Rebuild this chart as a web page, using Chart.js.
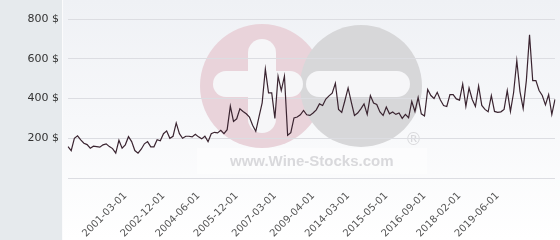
<!DOCTYPE html>
<html><head><meta charset="utf-8">
<script src="https://cdn.jsdelivr.net/npm/chart.js@4/dist/chart.umd.min.js"></script>
<style>html,body{margin:0;padding:0;background:#fff}#wrap{width:560px;height:240px}</style>
</head><body><div id="wrap"><canvas id="c" width="560" height="240"></canvas></div>
<script>
// Price series (USD)
const prices = [
  158,138,200,212,192,175,168,150,160,158,155,167,172,158,148,125,190,150,167,208,183,138,125,
  145,172,183,157,157,193,187,223,237,200,210,277,223,200,210,210,207,220,207,197,210,183,223,230,227,240,223,243,
  362,285,298,348,335,323,307,265,235,307,378,548,428,428,300,512,440,512,215,228,302,307,318,340,318,315,
  327,343,373,365,397,413,427,477,345,330,390,453,382,315,327,348,373,320,415,377,370,332,315,357,323,332,320,327,
  300,320,303,385,335,405,323,312,445,415,400,431,392,365,360,420,420,398,392,473,360,453,395,360,463,
  365,345,333,415,335,330,333,345,440,335,430,590,435,350,490,720,490,490,440,415,368,420,320,395
];
// Visible date labels and the point index they belong to
const tickLabels = ['2001-03-01','2002-12-01','2004-06-01','2005-12-01','2007-03-01','2009-04-01','2014-03-01','2015-05-01','2016-09-01','2018-02-01','2019-06-01'];
const tickIndices = [18,30,41,53,65,77,88,100,112,123,135];
const yMin = 0, yMax = 800, yStep = 200;
const currency = '$';
const watermarkText = 'www.Wine-Stocks.com';

const labels = prices.map((_, i) => {
  const k = tickIndices.indexOf(i);
  return k >= 0 ? tickLabels[k] : '';
});

function pill(ctx, x, y, w, h) {
  const r = Math.min(w, h) / 2;
  ctx.beginPath();
  ctx.moveTo(x + r, y);
  ctx.arcTo(x + w, y, x + w, y + h, r);
  ctx.arcTo(x + w, y + h, x, y + h, r);
  ctx.arcTo(x, y + h, x, y, r);
  ctx.arcTo(x, y, x + w, y, r);
  ctx.closePath();
  ctx.fill();
}

const bgPlugin = {
  id: 'bg',
  beforeDraw(chart) {
    const ctx = chart.ctx;
    const W = chart.width, H = chart.height;
    ctx.save();
    ctx.fillStyle = '#e6eaed';
    ctx.fillRect(0, 0, 62, H);
    ctx.fillStyle = '#fbfbfc';
    ctx.fillRect(62, 0, 1, H);
    const g = ctx.createLinearGradient(0, 0, 0, H);
    g.addColorStop(0, '#eff1f5');
    g.addColorStop(1, '#ffffff');
    ctx.fillStyle = g;
    ctx.fillRect(63, 0, W - 63, H);
    // watermark
    ctx.fillStyle = 'rgba(255,255,255,0.45)';
    ctx.fillRect(197, 148, 230, 26);
    ctx.fillStyle = '#e9d3da';
    ctx.beginPath(); ctx.arc(262, 86, 62, 0, Math.PI * 2); ctx.fill();
    ctx.fillStyle = '#d7d7d9';
    ctx.beginPath(); ctx.arc(361, 86, 61, 0, Math.PI * 2); ctx.fill();
    ctx.fillStyle = '#f6f6f8';
    pill(ctx, 248, 39, 28, 94);
    pill(ctx, 213, 71, 90, 26);
    pill(ctx, 306, 71, 104, 26);
    ctx.fillStyle = '#d9d9dc';
    ctx.font = 'bold 15px "Liberation Sans", Arial, sans-serif';
    ctx.textAlign = 'left';
    ctx.textBaseline = 'alphabetic';
    ctx.fillText(watermarkText, 230, 166);
    ctx.font = '17px "DejaVu Sans", sans-serif';
    ctx.fillText('\u00AE', 405, 145);
    ctx.restore();
  }
};

new Chart(document.getElementById('c'), {
  type: 'line',
  data: {
    labels: labels,
    datasets: [{
      data: prices,
      borderColor: '#3a2430',
      borderWidth: 1.2,
      pointRadius: 0,
      tension: 0,
      fill: false
    }]
  },
  options: {
    responsive: false,
    animation: false,
    devicePixelRatio: 1,
    layout: { padding: { top: 19, right: 5, left: 0, bottom: 0 } },
    plugins: { legend: { display: false }, tooltip: { enabled: false } },
    scales: {
      x: {
        type: 'category',
        offset: false,
        grid: { display: false, drawTicks: false },
        border: { display: false },
        ticks: {
          autoSkip: false, minRotation: 45, maxRotation: 45, padding: 12,
          color: '#555', font: { family: 'DejaVu Sans', size: 10 },
          callback: function (v, i) { return labels[i]; }
        },
        afterFit(s) { s.height = 62; s.paddingLeft = 0; s.paddingRight = 0; }
      },
      y: {
        min: yMin, max: yMax,
        grid: { color: '#dcdde2', drawTicks: false },
        border: { display: false },
        ticks: {
          stepSize: yStep, padding: 9, color: '#333',
          font: { family: 'DejaVu Sans', size: 11 },
          callback: v => v === 0 ? '' : v + ' ' + currency
        },
        afterFit(s) { s.width = 68; s.paddingTop = 0; s.paddingBottom = 0; }
      }
    }
  },
  plugins: [bgPlugin]
});
</script>
</body></html>
